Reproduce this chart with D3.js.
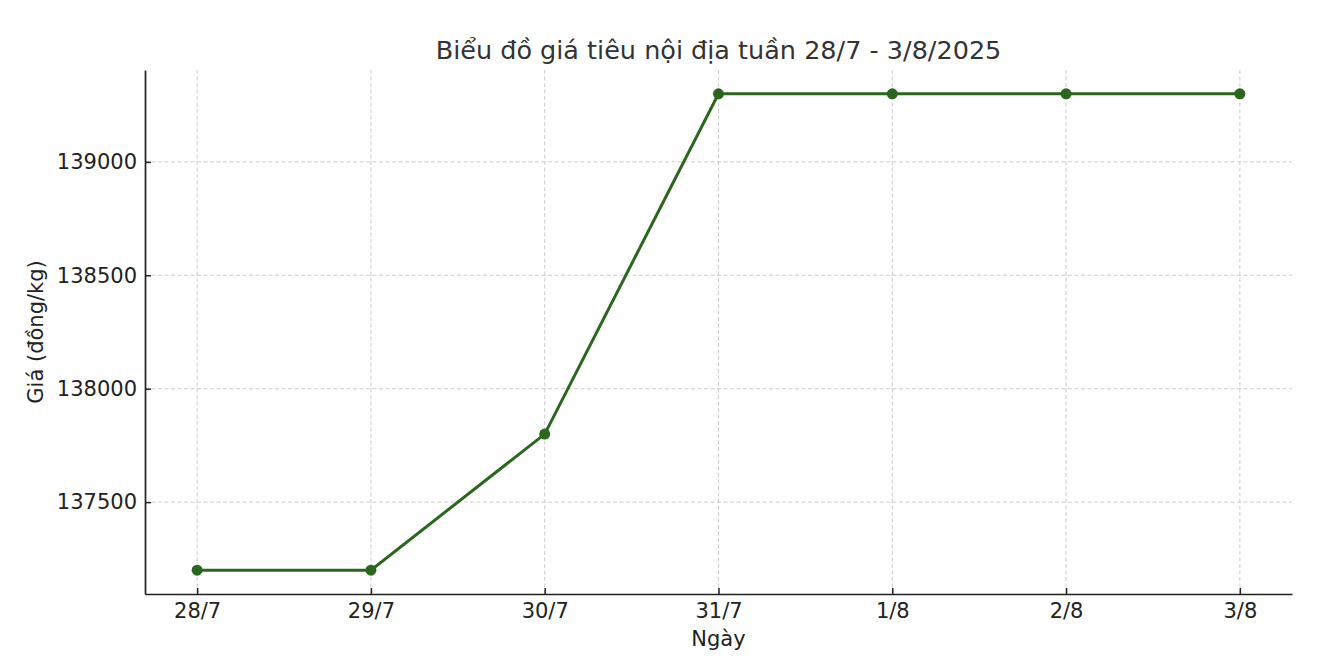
<!DOCTYPE html>
<meta charset="utf-8">
<style>
body { margin: 0; background: #fff; }
svg { display: block; font-family: "DejaVu Sans", sans-serif; }
.grid line { stroke: #cccccc; stroke-dasharray: 4,2.5; stroke-width: 1; }
.axis path, .axis line { stroke: #222; }
.axis text { font-family: "DejaVu Sans", sans-serif; font-size: 21px; fill: #222; }
</style>
<div id="chart"></div>
<script src="https://d3js.org/d3.v7.min.js"></script>
<script>
// data
const days = ["28/7", "29/7", "30/7", "31/7", "1/8", "2/8", "3/8"];
const prices = [137200, 137200, 137800, 139300, 139300, 139300, 139300];
const yTicks = [137500, 138000, 138500, 139000];

const W = 1318, H = 662;
const margin = {top: 70, right: 26, bottom: 68, left: 145};
const width = W - margin.left - margin.right,
      height = H - margin.top - margin.bottom;

const svg = d3.select("#chart").append("svg")
  .attr("width", W).attr("height", H);
const g = svg.append("g")
  .attr("transform", "translate(" + margin.left + "," + margin.top + ")");

// matplotlib-style 5% margins
const x = d3.scalePoint().domain(days).range([0, width]).padding(0.3);
const ymin = d3.min(prices), ymax = d3.max(prices), pad = (ymax - ymin) * 0.05;
const y = d3.scaleLinear().domain([ymin - pad, ymax + pad]).range([height, 0]);

// grid
g.append("g").attr("class", "grid")
  .selectAll("line").data(days).join("line")
  .attr("x1", d => x(d)).attr("x2", d => x(d))
  .attr("y1", 0).attr("y2", height);
g.append("g").attr("class", "grid")
  .selectAll("line").data(yTicks).join("line")
  .attr("x1", 0).attr("x2", width)
  .attr("y1", d => y(d)).attr("y2", d => y(d));

// axes, ticks pointing inward
const xa = g.append("g").attr("class", "axis")
  .attr("transform", "translate(0," + height + ")")
  .call(d3.axisBottom(x).tickSizeOuter(0).tickSizeInner(-6).tickPadding(9));
const ya = g.append("g").attr("class", "axis")
  .call(d3.axisLeft(y).tickValues(yTicks).tickFormat(d3.format("d")).tickSizeOuter(0).tickSizeInner(-6).tickPadding(8));
[xa, ya].forEach(a => {
  a.select(".domain").attr("stroke-width", 1.7);
  a.selectAll(".tick line").attr("stroke-width", 1.5);
});

// line + markers
const color = "#2b661e";
g.append("path").datum(prices)
  .attr("fill", "none").attr("stroke", color).attr("stroke-width", 3)
  .attr("d", d3.line().x((d, i) => x(days[i])).y(d => y(d)));
g.append("g").selectAll("circle").data(prices).join("circle")
  .attr("cx", (d, i) => x(days[i])).attr("cy", d => y(d))
  .attr("r", 5.5).attr("fill", color);

// titles
svg.append("text").attr("x", margin.left + width / 2).attr("y", 59)
  .attr("text-anchor", "middle").attr("font-size", 25.5).attr("fill", "#333")
  .text("Biểu đồ giá tiêu nội địa tuần 28/7 - 3/8/2025");
svg.append("text").attr("x", margin.left + width / 2).attr("y", 646)
  .attr("text-anchor", "middle").attr("font-size", 21).attr("fill", "#222")
  .text("Ngày");
svg.append("text").attr("transform", "translate(43," + (margin.top + height / 2) + ") rotate(-90)")
  .attr("text-anchor", "middle").attr("font-size", 21).attr("fill", "#222")
  .text("Giá (đồng/kg)");
</script>
